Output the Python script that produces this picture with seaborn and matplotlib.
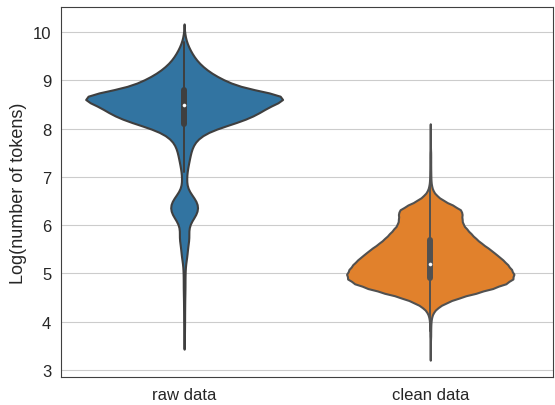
import numpy as np
import pandas as pd
import seaborn as sns
import matplotlib.pyplot as plt

raw_bins = [3.6, 3.7, 3.8, 3.9, 4.0, 4.1, 4.2, 4.3, 4.4, 4.5, 4.6, 4.7, 4.8, 4.9,
            5.0, 5.1, 5.2, 5.3, 5.4, 5.5, 5.6, 5.7, 5.8, 5.9, 6.0, 6.1, 6.2, 6.3,
            6.4, 6.5, 6.6, 6.7, 6.8, 6.9, 7.0, 7.1, 7.2, 7.3, 7.4, 7.5, 7.6, 7.7,
            7.8, 7.9, 8.0, 8.1, 8.2, 8.3, 8.4, 8.5, 8.6, 8.7, 8.8, 8.9, 9.0, 9.1,
            9.2, 9.3, 9.4, 9.5, 9.6, 9.7, 9.8, 9.9, 10.0]
raw_counts = [3, 3, 4, 4, 5, 5, 5, 6, 6, 7, 8, 9, 9, 9,
              10, 12, 15, 25, 30, 35, 40, 50, 50, 45, 55, 80, 120, 140,
              145, 125, 90, 50, 30, 25, 26, 30, 38, 48, 58, 68, 82, 105,
              145, 215, 330, 500, 650, 750, 830, 900, 1080, 1050, 700, 520, 420, 320,
              245, 185, 135, 100, 70, 45, 25, 12, 5]

clean_bins = [3.3, 3.4, 3.5, 3.6, 3.7, 3.8, 3.9, 4.0, 4.1, 4.2, 4.3, 4.4, 4.5,
              4.6, 4.7, 4.8, 4.9, 5.0, 5.1, 5.2, 5.3, 5.4, 5.5, 5.6, 5.7, 5.8,
              5.9, 6.0, 6.1, 6.2, 6.3, 6.4, 6.5, 6.6, 6.7, 6.8, 6.9, 7.0, 7.1,
              7.2, 7.3, 7.4, 7.5, 7.6, 7.7, 7.8, 7.9, 8.0]
clean_counts = [1, 1, 2, 2, 5, 5, 6, 9, 17, 40, 95, 201, 354,
                567, 768, 921, 992, 992, 957, 910, 850, 779, 708, 626, 555, 496,
                443, 394, 377, 377, 377, 284, 166, 83, 36, 17, 9, 7, 6,
                5, 5, 5, 5, 2, 2, 2, 1, 1]

categories = ["raw data", "clean data"]
colors = ["#1f77b4", "#ff7f0e"]

df = pd.DataFrame({
    "dataset": [categories[0]] * sum(raw_counts) + [categories[1]] * sum(clean_counts),
    "log_tokens": np.concatenate([np.repeat(raw_bins, raw_counts),
                                  np.repeat(clean_bins, clean_counts)]),
})

sns.set_style("whitegrid", {"axes.edgecolor": ".25"})
plt.rcParams["font.family"] = ["Liberation Sans", "DejaVu Sans"]

fig, ax = plt.subplots(figsize=(5.55, 4.06), dpi=100)
# one call per violin so the clean one can be drawn a bit narrower (area scaling)
for cat, col, w in zip(categories, colors, [0.8, 0.68]):
    sns.violinplot(data=df[df["dataset"] == cat], x="dataset", y="log_tokens",
                   order=categories, color=col, bw_adjust=0.6, width=w, ax=ax,
                   linewidth=1.5,
                   inner_kws={"box_width": 4.3, "whis_width": 1.4, "marker": "o",
                              "markersize": 2.2, "markeredgewidth": 0.4})
ax.set_xlabel("")
ax.set_ylabel("Log(number of tokens)", fontsize=13)
ax.tick_params(labelsize=12)
fig.subplots_adjust(left=0.11, right=0.997, top=0.98, bottom=0.069)
fig.savefig("out.png")
